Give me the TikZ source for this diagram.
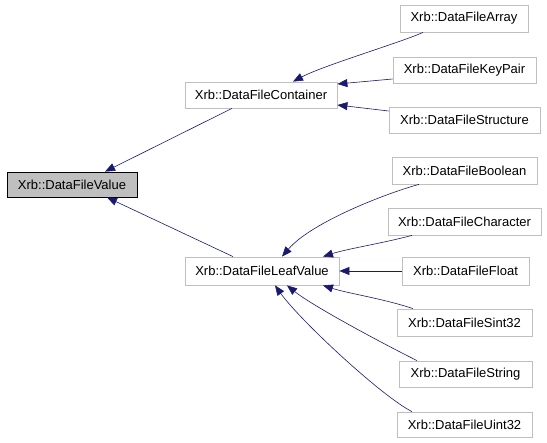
\documentclass[tikz,border=0pt]{standalone}
\usepackage{fontspec}
\setmainfont{Liberation Sans}
\usetikzlibrary{arrows.meta}
\definecolor{edgeblue}{HTML}{191970}
\definecolor{boxgray}{HTML}{BFBFBF}
\tikzset{
  cls/.style={draw=boxgray, line width=0.8pt, fill=white, inner sep=0pt, font=\fontsize{13}{15}\selectfont},
  root/.style={cls, draw=black, fill=boxgray},
  edge/.style={draw=edgeblue, line width=0.6pt, -{Triangle[length=10pt,width=8pt]}}
}
\begin{document}
\begin{tikzpicture}[x=1pt,y=-1pt]
\useasboundingbox (0,0) rectangle (547,443);
\node[root, minimum width=130pt, minimum height=25pt] (val) at (72,184.5) {Xrb::DataFileValue};
\node[cls, minimum width=152pt, minimum height=26pt] (cont) at (261,95) {Xrb::DataFileContainer};
\node[cls, minimum width=128pt, minimum height=27pt] (arr) at (464,18.5) {Xrb::DataFileArray};
\node[cls, minimum width=143pt, minimum height=26pt] (kp) at (464.5,70) {Xrb::DataFileKeyPair};
\node[cls, minimum width=151pt, minimum height=26pt] (st) at (464.5,120) {Xrb::DataFileStructure};
\node[cls, minimum width=154pt, minimum height=28pt] (leaf) at (262,271) {Xrb::DataFileLeafValue};
\node[cls, minimum width=145pt, minimum height=27pt] (bool) at (464.5,170.5) {Xrb::DataFileBoolean};
\node[cls, minimum width=153pt, minimum height=27pt] (chr) at (464.5,221.5) {Xrb::DataFileCharacter};
\node[cls, minimum width=127pt, minimum height=28pt] (flt) at (465.5,271) {Xrb::DataFileFloat};
\node[cls, minimum width=135pt, minimum height=27pt] (si) at (464.5,322.5) {Xrb::DataFileSint32};
\node[cls, minimum width=133pt, minimum height=26pt] (str) at (465.5,374) {Xrb::DataFileString};
\node[cls, minimum width=135pt, minimum height=25pt] (ui) at (464.5,424.5) {Xrb::DataFileUint32};

\draw[edge] ([xshift=-29pt]cont.south) -- ([xshift=33pt]val.north);
\draw[edge] ([xshift=-29pt]leaf.north) -- ([xshift=35pt]val.south);

\draw[edge] ([xshift=-41pt]arr.south) .. controls +(-22,10) and +(30,-16) .. ([xshift=32pt]cont.north);
\draw[edge] ([yshift=-9pt]kp.west) -- ([yshift=11pt]cont.east);
\draw[edge] ([yshift=9pt]st.west) -- ([yshift=-10pt]cont.east);

\draw[edge] ([xshift=-45.5pt]bool.south) .. controls +(-30,8) and +(30,-35) .. ([xshift=20pt]leaf.north);
\draw[edge] ([xshift=-52.5pt]chr.south) .. controls +(-30,8) and +(25,-8) .. ([xshift=61pt]leaf.north);
\draw[edge] (flt.west) -- (leaf.east);
\draw[edge] ([xshift=-51.5pt]si.north) .. controls +(-30,-10) and +(25,8) .. ([xshift=61pt]leaf.south);
\draw[edge] ([xshift=-48.5pt]str.north) .. controls +(-40,-20) and +(25,20) .. ([xshift=25pt]leaf.south);
\draw[edge] ([xshift=-52.5pt]ui.north) .. controls +(-30,-15) and +(25,35) .. ([xshift=13pt]leaf.south);
\end{tikzpicture}
\end{document}
